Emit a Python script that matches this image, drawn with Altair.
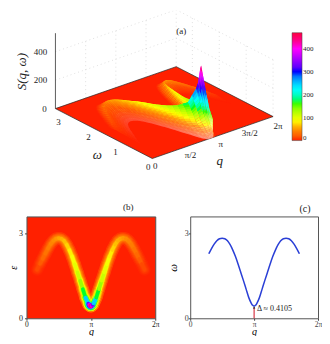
import math
import altair as alt

# ridge of the spectrum (q in units of pi/24)
q_steps = [4,5,6,7,8,9,10,11,12,13,14,15,16,17,18,19,20,21,22,23,23.25,23.5,23.75,24,
           24.25,24.5,24.75,25,26,27,28,29,30,31,32,33,34,35,36,37,38,39,40,41,42,43,44]
omega_ridge = [1.72,1.92,2.10,2.28,2.46,2.62,2.74,2.81,2.83,2.81,2.74,2.60,2.41,2.18,1.91,1.62,1.33,1.03,0.73,0.52,0.48,0.46,0.44,0.43,
               0.44,0.46,0.48,0.52,0.73,1.03,1.33,1.62,1.91,2.18,2.41,2.60,2.74,2.81,2.83,2.81,2.74,2.62,2.46,2.28,2.10,1.92,1.72]
S_ridge = [8,16,24,30,35,40,45,50,55,58,62,68,75,85,95,105,120,145,190,300,340,390,440,465,
           440,390,340,300,190,145,120,105,95,85,75,68,62,58,55,50,45,40,35,30,24,16,8]
q_vals = [k * math.pi / 24 for k in q_steps]

# cross-section of the ridge in panel (a)
surf_off = [0.30,0.20,0.10,0.0,-0.10,-0.20,-0.30,-0.45,-0.60,-0.75,-0.90]
surf_fac = [0.0,0.25,0.62,1.0,0.80,0.60,0.42,0.28,0.16,0.07,0.0]
surf_white = [0,0,0,0,0,0.05,0.15,0.3,0.45,0.6]
# nested bands of panel (b)
band_w = [12.5,10,8,6,4.5,3.5]
band_f = [0.10,0.25,0.42,0.62,0.82,1.0]

color_dom = [0,50,85,165,225,300,345,400,440,470]
color_rng = ['#ff2000','#ff9000','#ffff00','#00ff00','#00ffff','#0000ff','#9000ff','#ff00ff','#ff0080','#ff0040']
color_scale = alt.Scale(domain=color_dom, range=color_rng, clamp=True)
serif = 'Liberation Serif'

# --- panel (a): 3D view -------------------------------------------------
OX, OY = 26, 10
W_MAX, Z_MAX = 3.6, 530
def proj(q, w, z):
    u, v = q / (2 * math.pi), w / W_MAX
    return [152 + 121 * u - 97 * v - OX, 158 - 42 * u - 50 * v - 0.1425 * z - OY]

def poly(pts, **props):
    c = [proj(*p) for p in pts]
    return {'type': 'Feature', 'properties': props, 'geometry': {'type': 'Polygon', 'coordinates': [c + [c[0]]]}}

def line(pts):
    return {'type': 'Feature', 'properties': {}, 'geometry': {'type': 'LineString', 'coordinates': [proj(*p) for p in pts]}}

T = 2 * math.pi
ident = dict(type='identity', scale=1, translate=[0, 0])

wall = []
for z in [200, 400]:
    wall.append(line([(0, W_MAX, z), (T, W_MAX, z), (T, 0, z)]))
for q in [T/4, T/2, 3*T/4, T]:
    wall.append(line([(q, W_MAX, 0), (q, W_MAX, 400)]))
for w in [0, 1, 2, 3]:
    wall.append(line([(T, w, 0), (T, w, 400)]))
wall_l = (alt.Chart(alt.Data(values=wall)).mark_geoshape(filled=False, stroke='#cccccc', strokeWidth=0.6, strokeDash=[1, 3])
          .project(**ident))

floor = [poly([(0, 0, 0), (T, 0, 0), (T, W_MAX, 0), (0, W_MAX, 0)])]
floor_l = (alt.Chart(alt.Data(values=floor)).mark_geoshape(fill='#ff2000', stroke='#222222', strokeWidth=0.7)
           .project(**ident))

def mix(a, b, t):
    return tuple(x + (y - x) * t for x, y in zip(a, b))

def corner(i, j):
    scale_off = 1.0 if q_vals[i] <= math.pi or surf_off[j] > 0 else 0.6
    return (q_vals[i], max(0, omega_ridge[i] + surf_off[j] * scale_off), S_ridge[i] * surf_fac[j])

cells, veil = [], []
order = sorted(range(len(q_vals) - 1), key=lambda i: -q_vals[i])
for i in order:
    dk = q_steps[i + 1] - q_steps[i]
    ncol = 1 if dk < 0.5 else 2
    for col in range(ncol - 1, -1, -1):
        for j in range(len(surf_off) - 1):
            nrow = 3
            for r in range(nrow):
                t0, t1 = col / ncol, (col + 1) / ncol
                s0, s1 = r / nrow, (r + 1) / nrow
                a, b = corner(i, j), corner(i + 1, j)
                c, d = corner(i + 1, j + 1), corner(i, j + 1)
                p = [mix(mix(a, b, t0), mix(d, c, t0), s0), mix(mix(a, b, t1), mix(d, c, t1), s0),
                     mix(mix(a, b, t1), mix(d, c, t1), s1), mix(mix(a, b, t0), mix(d, c, t0), s1)]
                S = sum(v[2] for v in p) / 4
                cells.append(poly(p, S=S))
                w = surf_white[j] * min(1, S_ridge[i] / 160)
                if w > 0 and q_vals[i] <= math.pi:
                    veil.append(poly(p, W=w))
surf_l = (alt.Chart(alt.Data(values=cells))
          .mark_geoshape(stroke=None, strokeWidth=0)
          .encode(color=alt.Color('properties.S:Q', scale=color_scale,
                                  legend=alt.Legend(type='gradient', orient='none', legendX=292 - OX, legendY=32 - OY, title=None,
                                                    gradientLength=108, gradientThickness=10, values=[0,100,200,300,400],
                                                    labelFont=serif, labelFontSize=7, labelColor='#222',
                                                    gradientStrokeColor='#444', gradientStrokeWidth=0.5, labelOffset=1)))
          .project(**ident))
veil_l = (alt.Chart(alt.Data(values=veil))
          .mark_geoshape(fill='#ffffff', stroke=None, strokeWidth=0)
          .encode(opacity=alt.Opacity('properties.W:Q', scale=None))
          .project(**ident))

axis_l = (alt.Chart(alt.Data(values=[line([(0, W_MAX, 0), (0, W_MAX, 530)])]))
          .mark_geoshape(filled=False, stroke='#333333', strokeWidth=0.8).project(**ident))

texts = []
def add(xy, dx, dy, t, size=9, italic=False, angle=0, align='center', color='#222222'):
    texts.append(dict(x=xy[0] + dx, y=xy[1] + dy, t=t, size=size, st='italic' if italic else 'normal',
                      angle=angle, align=align, color=color))
for q, t, dx, dy in [(0, '0', 3, 7), (T/4, 'π/2', 8, 7), (T/2, 'π', 8, 6), (3*T/4, '3π/2', 7, 6), (T, '2π', 5, 9)]:
    add(proj(q, 0, 0), dx, dy, t)
for w, t, dx, dy in [(0, '0', -4, 8), (1, '1', -10, 7), (2, '2', -10, 6), (3, '3', -13, 5)]:
    add(proj(0, w, 0), dx, dy, t)
for z, t, dx in [(0, '0', -11), (200, '200', -15), (400, '400', -15)]:
    add(proj(0, W_MAX, z), dx, 0, t)
add(proj(T/2, 0, 0), 7, 23, 'q', size=13, italic=True)
add(proj(0, 1.6, 0), -12, 19, 'ω', size=13, italic=True)
add(proj(0, W_MAX, 260), -33, 0, 'S(q, ω)', size=13, italic=True, angle=270)
add((181 - OX, 30 - OY), 0, 0, '(a)', size=9)

px_x = alt.X('x:Q', scale=alt.Scale(domain=[-40, 280], range=[-40, 280]), axis=None)
px_y = alt.Y('y:Q', scale=alt.Scale(domain=[0, 200], range=[0, 200]), axis=None)
text_l = alt.layer(*[
    alt.Chart(alt.Data(values=[r])).mark_text(font=serif, fontSize=r['size'], fontStyle=r['st'], angle=r['angle'],
                                              align=r['align'], baseline='middle', color=r['color'])
    .encode(x=px_x, y=px_y, text='t:N') for r in texts])

panel_a = alt.layer(wall_l, floor_l, surf_l, veil_l, axis_l, text_l).properties(
    width=280, height=200, view=alt.ViewConfig(stroke=None))

# --- panel (b) ---------------------------------------------------------
segs = []
for lvl in range(len(band_w)):
    for i in range(len(q_vals) - 1):
        segs.append(dict(x=q_vals[i], x2=q_vals[i+1], y=omega_ridge[i], y2=omega_ridge[i+1],
                         s=(S_ridge[i] + S_ridge[i+1]) / 2 * band_f[lvl], w=band_w[lvl]))
pi_labels = ("datum.value<0.1?'0':datum.value<2?'π/2':datum.value<3.5?'π':datum.value<5?'3π/2':'2π'")
q_ticks = [0, T/4, T/2, 3*T/4, T]
def q_axis(color):
    return alt.Axis(values=q_ticks, labelExpr=pi_labels, title='q', titleFont=serif, titleFontStyle='italic',
                    titleFontSize=10, titleFontWeight='normal', titleY=16, titleBaseline='alphabetic', labelFont=serif, labelFontSize=7.5,
                    labelColor=color, tickSize=2, grid=False, domain=False, tickColor='#444', labelPadding=0,
                    labelOverlap=False, labelFlush=False, labelBound=False)
def w_axis(color, name, pad, tx, size):
    return alt.Axis(values=[0, 1, 2, 3], title=name, titleFont=serif, titleFontStyle='italic', titleFontSize=size,
                    titleFontWeight='normal', titleX=tx, labelFont=serif, labelFontSize=8, labelColor=color,
                    tickSize=2, grid=False, domain=False, tickColor='#444', labelPadding=pad,
                    labelOverlap=False, labelBound=False, labelFlush=False)

b_bands = (alt.Chart(alt.Data(values=segs)).mark_rule(strokeCap='round', clip=True).encode(
    x=alt.X('x:Q', scale=alt.Scale(domain=[0, T], nice=False, zero=False), axis=q_axis('#222')),
    y=alt.Y('y:Q', scale=alt.Scale(domain=[0, 3.6], nice=False, zero=False), axis=w_axis('#222', 'ε', 2, -8, 10)),
    x2='x2:Q', y2='y2:Q',
    color=alt.Color('s:Q', scale=color_scale, legend=None),
    strokeWidth=alt.StrokeWidth('w:Q', scale=None)))
b_title = alt.Chart(alt.Data(values=[dict(x=4.97, y=3.92, t='(b)')])).mark_text(font=serif, fontSize=9, color='#222').encode(
    x='x:Q', y='y:Q', text='t:N')
panel_b = alt.layer(b_bands, b_title).properties(width=129, height=102, view=alt.ViewConfig(fill='#ff2000', stroke='#555555'))

# --- panel (c) ---------------------------------------------------------
c_q = [q for q in q_vals if 0.9 < q < T - 0.9]
c_w = [w for q, w in zip(q_vals, omega_ridge) if 0.9 < q < T - 0.9]
curve = [dict(q=q, w=w) for q, w in zip(c_q, c_w)]
c_x = alt.Scale(domain=[0, T], nice=False, zero=False)
c_y = alt.Scale(domain=[0, 3.6], nice=False, zero=False)
c_line = (alt.Chart(alt.Data(values=curve)).mark_line(color='#2a3fd6', strokeWidth=1.5, interpolate='monotone').encode(
    x=alt.X('q:Q', scale=c_x, axis=q_axis('#444')),
    y=alt.Y('w:Q', scale=c_y, axis=w_axis('#444', 'ω', 0, -12, 11))))
c_gap = (alt.Chart(alt.Data(values=[dict(q=T/2, a=0.0, b=0.38)])).mark_rule(color='#d01020', strokeWidth=1).encode(
    x=alt.X('q:Q', scale=c_x), y=alt.Y('a:Q', scale=c_y), y2='b:Q'))
c_tip = (alt.Chart(alt.Data(values=[dict(q=T/2, a=0.38)])).mark_point(shape='triangle-up', filled=True, size=6, color='#111', opacity=1).encode(
    x=alt.X('q:Q', scale=c_x), y=alt.Y('a:Q', scale=c_y)))
c_text = (alt.Chart(alt.Data(values=[dict(q=3.28, w=0.31, t='Δ ≈ 0.4105')]))
          .mark_text(font=serif, fontSize=8, align='left', color='#222')
          .encode(x=alt.X('q:Q', scale=c_x), y=alt.Y('w:Q', scale=c_y), text='t:N'))
c_title = (alt.Chart(alt.Data(values=[dict(q=5.64, w=3.88, t='(c)')])).mark_text(font=serif, fontSize=10, color='#222')
           .encode(x=alt.X('q:Q', scale=c_x), y=alt.Y('w:Q', scale=c_y), text='t:N'))
panel_c = alt.layer(c_line, c_gap, c_tip, c_text, c_title).properties(width=128, height=102, view=alt.ViewConfig(stroke='#555555'))

row = alt.hconcat(panel_b, panel_c, spacing=35, bounds='flush')
chart = alt.vconcat(panel_a, row, spacing=6, bounds='flush').properties(
    padding={'left': -0.5, 'top': 2.5, 'right': -1, 'bottom': -2}, background='white'
).resolve_scale(color='independent')

chart.save("out.html", embed_options={"renderer": "svg", "actions": False})
